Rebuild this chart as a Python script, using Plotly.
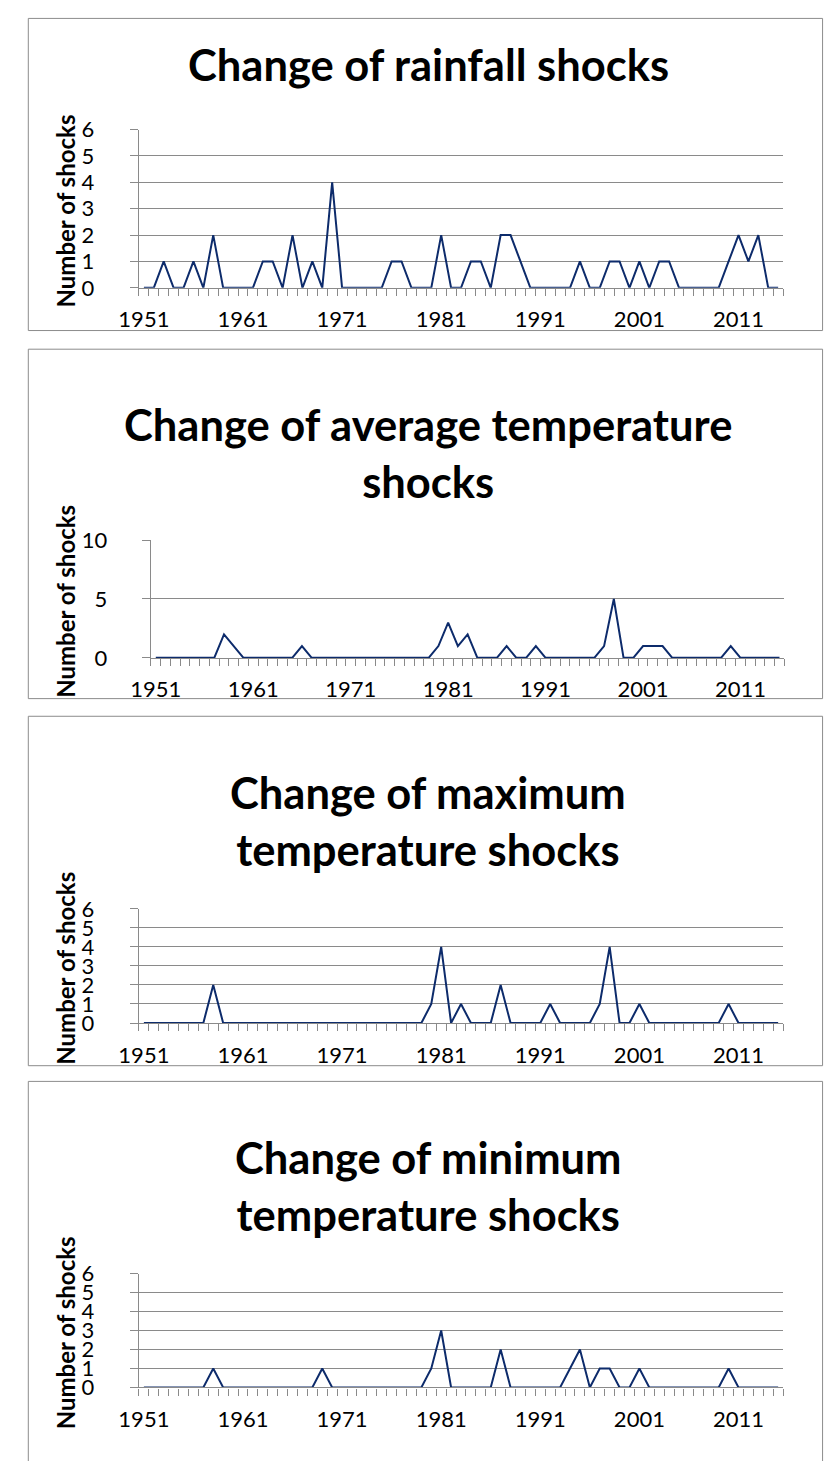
import plotly.graph_objects as go

# ---------------- data ----------------
years = list(range(1951, 2016))
tick_years = [1951, 1961, 1971, 1981, 1991, 2001, 2011]
tick_labels = [str(y) for y in tick_years]

rainfall = [0, 0, 1, 0, 0, 1, 0, 2, 0, 0,
            0, 0, 1, 1, 0, 2, 0, 1, 0, 4,
            0, 0, 0, 0, 0, 1, 1, 0, 0, 0,
            2, 0, 0, 1, 1, 0, 2, 2, 1, 0,
            0, 0, 0, 0, 1, 0, 0, 1, 1, 0,
            1, 0, 1, 1, 0, 0, 0, 0, 0, 1,
            2, 1, 2, 0, 0]
avg_temp = [0, 0, 0, 0, 0, 0, 0, 2, 1, 0,
            0, 0, 0, 0, 0, 1, 0, 0, 0, 0,
            0, 0, 0, 0, 0, 0, 0, 0, 0, 1,
            3, 1, 2, 0, 0, 0, 1, 0, 0, 1,
            0, 0, 0, 0, 0, 0, 1, 5, 0, 0,
            1, 1, 1, 0, 0, 0, 0, 0, 0, 1,
            0, 0, 0, 0, 0]
max_temp = [0, 0, 0, 0, 0, 0, 0, 2, 0, 0,
            0, 0, 0, 0, 0, 0, 0, 0, 0, 0,
            0, 0, 0, 0, 0, 0, 0, 0, 0, 1,
            4, 0, 1, 0, 0, 0, 2, 0, 0, 0,
            0, 1, 0, 0, 0, 0, 1, 4, 0, 0,
            1, 0, 0, 0, 0, 0, 0, 0, 0, 1,
            0, 0, 0, 0, 0]
min_temp = [0, 0, 0, 0, 0, 0, 0, 1, 0, 0,
            0, 0, 0, 0, 0, 0, 0, 0, 1, 0,
            0, 0, 0, 0, 0, 0, 0, 0, 0, 1,
            3, 0, 0, 0, 0, 0, 2, 0, 0, 0,
            0, 0, 0, 1, 2, 0, 1, 1, 0, 0,
            1, 0, 0, 0, 0, 0, 0, 0, 0, 1,
            0, 0, 0, 0, 0]

titles = ["Change of rainfall shocks",
          "Change of average temperature<br>shocks",
          "Change of maximum<br>temperature shocks",
          "Change of minimum<br>temperature shocks"]
y_title = "Number of shocks"
series = [rainfall, avg_temp, max_temp, min_temp]
y_max = [6, 10, 6, 6]
y_step = [1, 5, 1, 1]

# ---------------- layout (pixels) ----------------
W, H = 825, 1461
FONT = "Lato"
GRID = "#8a8a8a"
LINE = "#0d2b6b"

# plot areas: (left, right, top, bottom)
areas = [(121, 782, 117.7, 279),
         (133.3, 783.3, 536, 656),
         (121, 782, 911.7, 1028),
         (121, 782, 1283.3, 1399.3)]
# chart borders: (left, right, top, bottom)
boxes = [(7.5, 822.5, 4.5, 322.5),
         (7.5, 822.5, 341.5, 697.5),
         (7.5, 822.5, 715.5, 1071.5),
         (7.5, 822.5, 1087.5, 1475)]
title_y = [51, 447, 822, 1194]
label_standoff = [31, 30, 31, 31]


def px_x(x):
    return x / W


def px_y(y):
    return 1 - y / H


fig = go.Figure()
layout = dict(width=W, height=H, margin=dict(l=0, r=0, t=0, b=0),
              paper_bgcolor="white", plot_bgcolor="white",
              showlegend=False, shapes=[], annotations=[])

for i, (vals, area, box) in enumerate(zip(series, areas, boxes)):
    n = "" if i == 0 else str(i + 1)
    fig.add_trace(go.Scatter(x=years, y=vals, mode="lines",
                             line=dict(color=LINE, width=2),
                             xaxis="x" + n, yaxis="y" + n,
                             hoverinfo="skip"))
    l, r, t, b = area
    layout["xaxis" + n] = dict(
        domain=[px_x(l), px_x(r)], anchor="y" + n,
        range=[1950.5, 2015.5], tickmode="array",
        tickvals=tick_years, ticktext=tick_labels, ticks="",
        showline=True, linecolor=GRID, linewidth=1.3,
        showgrid=False, zeroline=False,
        tickfont=dict(family=FONT, size=22, color="black"),
        ticklabelstandoff=12,
        minor=dict(ticks="outside", tickmode="linear", tick0=1950.5,
                   dtick=1, ticklen=7, tickwidth=1.3, tickcolor=GRID,
                   showgrid=False),
        fixedrange=True)
    layout["yaxis" + n] = dict(
        domain=[px_y(b), px_y(t)], anchor="x" + n,
        range=[0, y_max[i]], tickmode="linear", tick0=0, dtick=y_step[i],
        ticks="outside", ticklen=8, tickwidth=1.3, tickcolor=GRID,
        showline=True, linecolor=GRID, linewidth=1.3,
        showgrid=True, gridcolor=GRID, gridwidth=1.3, zeroline=False,
        tickfont=dict(family=FONT, size=22, color="black"),
        ticklabelstandoff=label_standoff[i],
        fixedrange=True)
    bl, br, bt, bb = box
    layout["shapes"].append(dict(type="rect", xref="paper", yref="paper",
                                 x0=px_x(bl), x1=px_x(br),
                                 y0=px_y(bb), y1=px_y(bt),
                                 line=dict(color="#8c8c8c", width=1),
                                 fillcolor="rgba(0,0,0,0)", layer="below"))
    layout["annotations"].append(dict(
        text=titles[i], xref="paper", yref="paper",
        x=px_x(418), y=px_y(title_y[i]), xanchor="center", yanchor="middle",
        showarrow=False,
        font=dict(family=FONT, size=43.5, color="black", weight="bold")))
    layout["annotations"].append(dict(
        text=y_title, xref="paper", yref="paper",
        x=px_x(46), y=px_y((t + b) / 2 + 2), xanchor="center",
        yanchor="middle", textangle=-90, showarrow=False,
        font=dict(family=FONT, size=24, color="black", weight="bold")))

fig.update_layout(**layout)
fig.write_html("out.html",
               post_script="document.body.style.margin='0';"
                           "document.body.style.padding='0';")
